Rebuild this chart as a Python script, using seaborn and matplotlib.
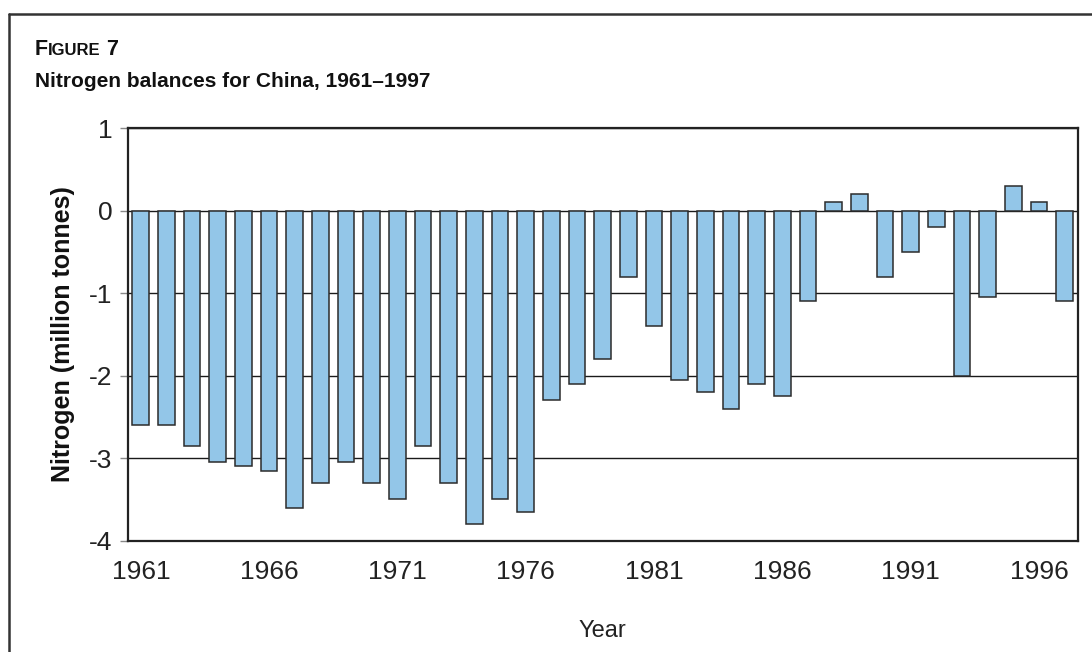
import matplotlib
matplotlib.use("Agg")
import matplotlib.pyplot as plt
from matplotlib.lines import Line2D
import seaborn as sns
import pandas as pd

# Annual nitrogen balance for China (million tonnes)
years = list(range(1961, 1998))
balance = [
    -2.6, -2.6, -2.85, -3.05, -3.1, -3.15, -3.6, -3.3, -3.05, -3.3,
    -3.5, -2.85, -3.3, -3.8, -3.5, -3.65, -2.3, -2.1, -1.8, -0.8,
    -1.4, -2.05, -2.2, -2.4, -2.1, -2.25, -1.1, 0.1, 0.2, -0.8,
    -0.5, -0.2, -2.0, -1.05, 0.3, 0.1, -1.1,
]
tick_years = [1961, 1966, 1971, 1976, 1981, 1986, 1991, 1996]
y_ticks = [1, 0, -1, -2, -3, -4]

df = pd.DataFrame({"Year": [str(y) for y in years], "Nitrogen": balance})

sns.set_theme(style="white")
plt.rcParams["font.family"] = ["Liberation Sans", "DejaVu Sans"]

fig = plt.figure(figsize=(10.92, 6.52), dpi=100)
ax = fig.add_axes([128 / 1092, 1 - 540.7 / 652, (1077.5 - 128) / 1092, (540.7 - 128) / 652])

sns.barplot(data=df, x="Year", y="Nitrogen", color="#93c6e8", saturation=1,
            edgecolor="#2b2b2b", linewidth=1.1, width=0.65, ax=ax, zorder=3)

ax.set_ylim(-4, 1)
ax.set_xlim(-0.5, len(years) - 0.5)
ax.set_yticks(y_ticks)
ax.set_yticklabels([str(v) for v in y_ticks], fontsize=19, color="#222222")
ax.yaxis.grid(True, color="#1a1a1a", linewidth=1.0, zorder=0)
ax.xaxis.grid(False)

pos = [years.index(y) for y in tick_years]
ax.set_xticks(pos)
ax.set_xticklabels([str(y) for y in tick_years], fontsize=19, color="#222222")
ax.tick_params(axis="x", length=0, pad=14)
ax.tick_params(axis="y", direction="out", length=6, width=1, color="#888888",
               left=True, pad=5)

for s in ax.spines.values():
    s.set_visible(True)
    s.set_color("#222222")
    s.set_linewidth(1.6)

ax.set_ylabel("Nitrogen (million tonnes)", fontsize=18, fontweight="bold",
              color="#111111", labelpad=10)
ax.set_xlabel("Year", fontsize=17, color="#222222", labelpad=26)

# outer frame around the figure block
fig.add_artist(Line2D([9 / 1092, 1.0], [1 - 14 / 652] * 2, transform=fig.transFigure,
                      color="#333333", linewidth=1.8))
fig.add_artist(Line2D([9 / 1092] * 2, [0.0, 1 - 14 / 652], transform=fig.transFigure,
                      color="#333333", linewidth=1.8))

# heading: small-caps figure number and the chart title
renderer = fig.canvas.get_renderer()
x0 = 35 / 1092
y_head = 1 - 55 / 652
parts = [("F", 15.5), ("IGURE", 12), (" 7", 15.5)]
xc = x0
for txt, size in parts:
    t = fig.text(xc, y_head, txt, fontsize=size, fontweight="bold", color="#111111",
                 ha="left", va="baseline")
    bb = t.get_window_extent(renderer=renderer)
    xc += bb.width / fig.bbox.width
fig.text(x0, 1 - 87 / 652, "Nitrogen balances for China, 1961\u20131997", fontsize=15,
         fontweight="bold", color="#111111", ha="left", va="baseline")

fig.savefig("out.png", dpi=100)
